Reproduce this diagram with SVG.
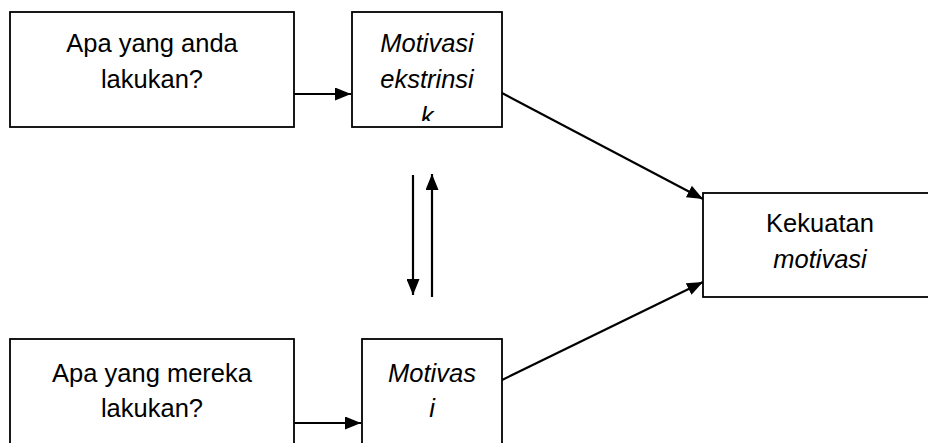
<svg xmlns="http://www.w3.org/2000/svg" width="928" height="443" viewBox="0 0 928 443">
<style>
.box{fill:#fff;stroke:#000;stroke-width:1.8}
.t{font-family:"Liberation Sans",Arial,sans-serif;font-size:25.5px;fill:#000;text-anchor:middle}
.i{font-style:italic}
.c{stroke:#000;stroke-width:2.2;fill:none;marker-end:url(#ah)}
</style>
<defs>
<marker id="ah" markerUnits="userSpaceOnUse" viewBox="0 0 16 13" markerWidth="16" markerHeight="13" refX="16" refY="6.5" orient="auto">
<path d="M0,0 L16,6.5 L0,13 z" fill="#000"/>
</marker>
<clipPath id="clipK"><rect x="352" y="12" width="150" height="109"/></clipPath>
</defs>
<rect width="928" height="443" fill="#fff"/>
<g id="node-apa-anda">
<rect class="box" x="10" y="12" width="284" height="115"/>
<text class="t" x="152" y="52">Apa yang anda</text>
<text class="t" x="152" y="88">lakukan?</text>
</g>
<g id="node-ekstrinsik">
<rect class="box" x="352" y="12" width="150" height="115"/>
<text class="t i" x="427" y="52">Motivasi</text>
<text class="t i" x="427" y="88">ekstrinsi</text>
<text class="t i" x="427" y="125" clip-path="url(#clipK)">k</text>
</g>
<g id="node-apa-mereka">
<rect class="box" x="10" y="339" width="284" height="120"/>
<text class="t" x="152" y="382">Apa yang mereka</text>
<text class="t" x="152" y="417">lakukan?</text>
</g>
<g id="node-intrinsik">
<rect class="box" x="362" y="339" width="140" height="120"/>
<text class="t i" x="432" y="382">Motivas</text>
<text class="t i" x="432" y="417">i</text>
</g>
<g id="node-kekuatan">
<rect class="box" x="703" y="193" width="240" height="104"/>
<text class="t" x="820" y="232">Kekuatan</text>
<text class="t i" x="820" y="268">motivasi</text>
</g>
<g id="connectors">
<line class="c" x1="294" y1="94" x2="351" y2="94"/>
<line class="c" x1="294" y1="423" x2="361" y2="423"/>
<line class="c" x1="413" y1="175" x2="413" y2="295"/>
<line class="c" x1="432" y1="297" x2="432" y2="174"/>
<line class="c" x1="502" y1="93" x2="703" y2="199"/>
<line class="c" x1="502" y1="380" x2="703" y2="282"/>
</g>
</svg>
